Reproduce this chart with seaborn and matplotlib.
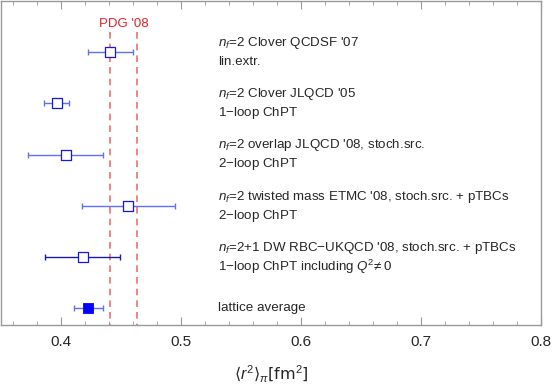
import numpy as np
import pandas as pd
import seaborn as sns
import matplotlib.pyplot as plt
from matplotlib.ticker import MultipleLocator

# Data
labels_top = [r"$n_f$=2 Clover QCDSF '07",
              r"$n_f$=2 Clover JLQCD '05",
              r"$n_f$=2 overlap JLQCD '08, stoch.src.",
              r"$n_f$=2 twisted mass ETMC '08, stoch.src. + pTBCs",
              r"$n_f$=2+1 DW RBC$-$UKQCD '08, stoch.src. + pTBCs",
              "lattice average"]
labels_bottom = ["lin.extr.",
                 "1$-$loop ChPT",
                 "2$-$loop ChPT",
                 "2$-$loop ChPT",
                 r"1$-$loop ChPT including $Q^2\!\neq$0",
                 ""]
r2_center = [0.441, 0.3964, 0.404, 0.4558, 0.418, 0.4228]
r2_low = [0.4222, 0.386, 0.3728, 0.4178, 0.387, 0.4106]
r2_high = [0.4603, 0.4064, 0.4353, 0.4948, 0.449, 0.4353]
filled = [False, False, False, False, False, True]
pdg_band = [0.441, 0.463]

df = pd.DataFrame({'label': labels_top, 'sub': labels_bottom,
                   'r2': r2_center, 'lo': r2_low, 'hi': r2_high,
                   'filled': filled})
df['pos'] = np.arange(1, len(df) + 1)

sns.set_style('white')
plt.rcParams['font.family'] = ['Liberation Sans', 'DejaVu Sans']
plt.rcParams['mathtext.fontset'] = 'custom'
plt.rcParams['mathtext.it'] = 'Liberation Sans:italic'
plt.rcParams['mathtext.rm'] = 'Liberation Sans'

fig = plt.figure(figsize=(5.53, 3.89), dpi=100)
ax = fig.add_axes([0.002, 0.165, 0.976, 0.833])

# PDG band
ax.vlines(pdg_band, 0.6, 6.32, colors='#ee7070', linestyles=(0, (4, 3)),
          lw=1.2, zorder=1)
ax.text(np.mean(pdg_band), 0.45, "PDG '08", color='#e8202a', fontsize=9.5,
        ha='center', va='center')

# error bars
for _, row in df.iterrows():
    ecol = '#1a1aa8' if row['pos'] == 5 else '#6070f0'
    ax.errorbar(row['r2'], row['pos'],
                xerr=[[row['r2'] - row['lo']], [row['hi'] - row['r2']]],
                fmt='none', ecolor=ecol, elinewidth=1, capsize=2.5,
                capthick=1, zorder=2)

open_pts = df[~df['filled']]
sns.scatterplot(data=open_pts, x='r2', y='pos', ax=ax, marker='s', s=45,
                facecolor='white', edgecolor='#1515ee', linewidth=0.9,
                zorder=3, legend=False)
sns.scatterplot(data=df[df['filled']], x='r2', y='pos', ax=ax, marker='s',
                s=55, color='#0000ff', edgecolor='#0000ff', zorder=3,
                legend=False)

# labels
for _, row in df.iterrows():
    if row['sub']:
        ax.text(0.531, row['pos'] - 0.18, row['label'], fontsize=9.6,
                va='center', ha='left')
        ax.text(0.531, row['pos'] + 0.19, row['sub'], fontsize=9.6,
                va='center', ha='left')
    else:
        ax.text(0.531, row['pos'], row['label'], fontsize=9.6,
                va='center', ha='left')

ax.set_xlim(0.35, 0.8)
ax.set_ylim(6.32, 0)
ax.set_yticks([])
ax.set_ylabel('')
ax.set_xlabel("\u27e8$r^2$\u27e9$_\\pi$[fm$^2$]", fontsize=11.5, labelpad=11,
              family=['DejaVu Sans'])
ax.xaxis.set_major_locator(MultipleLocator(0.1))
ax.xaxis.set_minor_locator(MultipleLocator(0.02))
ax.set_xticks([0.4, 0.5, 0.6, 0.7, 0.8])
ax.set_xticklabels(['0.4', '0.5', '0.6', '0.7', '0.8'])
ax.tick_params(axis='x', which='both', direction='in', top=True, bottom=True,
               color='#999999', labelsize=11, pad=7)
ax.tick_params(axis='x', which='major', length=6)
ax.tick_params(axis='x', which='minor', length=3)
for s in ax.spines.values():
    s.set_color('#999999')
    s.set_linewidth(1)

fig.savefig('out.png', dpi=100)
